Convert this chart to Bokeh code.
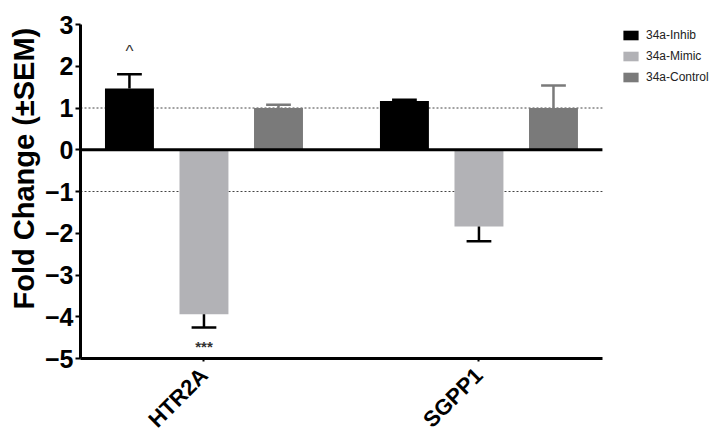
import math
from bokeh.plotting import figure
from bokeh.models import (Range1d, FixedTicker, Label, Legend, LegendItem,
                          ColumnDataSource, Title)
from bokeh.embed import file_html
from bokeh.resources import INLINE

genes = ["HTR2A", "SGPP1"]
series = ["34a-Inhib", "34a-Mimic", "34a-Control"]
inhib = [1.47, 1.17]
inhib_sem = [0.34, 0.03]
mimic = [-3.94, -1.84]
mimic_sem = [0.32, 0.35]
control = [1.0, 1.0]
control_sem = [0.08, 0.54]
y_ticks = [-5, -4, -3, -2, -1, 0, 1, 2, 3]
ref_lines = [1, -1]
sig_marks = ["^", "***"]

colors = ["#000000", "#b2b2b6", "#7a7a7a"]
err_colors = ["#000000", "#000000", "#7a7a7a"]
offsets = [-0.271, 0.0, 0.271]
bar_w = 0.178
cap_half = 0.045

X_MIN, X_MAX = -0.449, 1.449      # extent of the drawn x axis
X_VIEW_MAX = 1.842                # extra room on the right for the legend
Y_MIN, Y_MAX = -5, 3              # extent of the drawn y axis
Y_VIEW_MAX = 3.575                # extra room at the top

FONT = "Liberation Sans"

p = figure(width=710, height=444, output_backend="svg", toolbar_location=None,
           x_range=Range1d(X_MIN, X_VIEW_MAX), y_range=Range1d(Y_MIN, Y_VIEW_MAX),
           min_border_left=80, min_border_right=0, min_border_top=0,
           min_border_bottom=86)
p.outline_line_color = None
p.xgrid.visible = False
p.ygrid.visible = False
p.background_fill_color = "white"
p.border_fill_color = "white"

# reference dotted lines
p.segment(x0=[X_MIN] * len(ref_lines), x1=[X_MAX] * len(ref_lines),
          y0=ref_lines, y1=ref_lines, line_color="#444444", line_width=1,
          line_dash="2 2")

vals = [inhib, mimic, control]
sems = [inhib_sem, mimic_sem, control_sem]
renderers = []
for k in range(3):
    xs = [i + offsets[k] for i in range(len(genes))]
    src = ColumnDataSource(dict(x=xs, top=vals[k]))
    r = p.vbar(x="x", top="top", bottom=0, width=bar_w, source=src,
               fill_color=colors[k], line_color=None)
    renderers.append(r)
    ends = [v + (s if v >= 0 else -s) for v, s in zip(vals[k], sems[k])]
    p.segment(x0=xs, x1=xs, y0=vals[k], y1=ends, line_color=err_colors[k], line_width=2.5)
    p.segment(x0=[x - cap_half for x in xs], x1=[x + cap_half for x in xs],
              y0=ends, y1=ends, line_color=err_colors[k], line_width=2.5)

# zero line
p.segment(x0=[X_MIN], x1=[X_MAX], y0=[0], y1=[0], line_color="black", line_width=3)

# significance marks
p.add_layout(Label(x=0 + offsets[0], y=inhib[0] + inhib_sem[0] + 0.55, text=sig_marks[0],
                   text_align="center", text_baseline="middle", text_font=FONT,
                   text_font_size="17px", text_color="#333333"))
p.add_layout(Label(x=0 + offsets[1], y=mimic[0] - mimic_sem[0] - 0.45, text=sig_marks[1],
                   text_align="center", text_baseline="middle", text_font=FONT,
                   text_font_size="15px", text_font_style="bold", text_color="#333333"))

# axes
ya = p.yaxis[0]
ya.ticker = FixedTicker(ticks=y_ticks)
ya.bounds = (Y_MIN, Y_MAX)
ya.axis_line_width = 3
ya.axis_line_color = "black"
ya.major_tick_line_width = 2
ya.major_tick_out = 5
ya.major_tick_in = 0
ya.minor_tick_line_color = None
ya.major_label_standoff = 2
ya.major_label_text_font = FONT
ya.major_label_text_font_size = "25px"
ya.major_label_text_font_style = "bold"
ya.major_label_text_color = "black"

xa = p.xaxis[0]
xa.ticker = FixedTicker(ticks=list(range(len(genes))))
xa.bounds = (X_MIN, X_MAX)
xa.major_label_overrides = {i: g for i, g in enumerate(genes)}
xa.axis_line_width = 3
xa.axis_line_color = "black"
xa.major_tick_line_width = 2
xa.major_tick_out = 3
xa.major_tick_in = 0
xa.minor_tick_line_color = None
xa.major_label_orientation = math.pi / 4
xa.major_label_standoff = 10
xa.major_label_text_font = FONT
xa.major_label_text_font_size = "22px"
xa.major_label_text_font_style = "bold"
xa.major_label_text_color = "black"

# y axis title
p.add_layout(Title(text="Fold Change (\u00b1SEM)", align="left", offset=49,
                   standoff=4, text_font=FONT, text_font_size="29px",
                   text_font_style="bold", text_color="black"), "left")

legend = Legend(items=[LegendItem(label=s, renderers=[r]) for s, r in zip(series, renderers)],
                location=(541, 274), orientation="vertical",
                glyph_width=19, glyph_height=12, label_height=12, spacing=7,
                label_standoff=6, padding=0, margin=0,
                border_line_color=None, background_fill_alpha=0,
                label_text_font=FONT, label_text_font_size="12px",
                label_text_color="#222222")
p.add_layout(legend)

open("out.html", "w").write(file_html(p, INLINE))
